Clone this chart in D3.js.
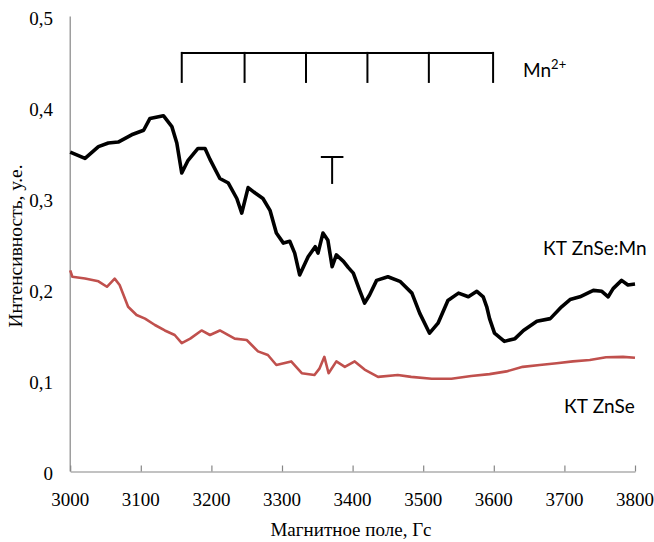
<!DOCTYPE html>
<html>
<head>
<meta charset="utf-8">
<script src="https://cdn.jsdelivr.net/npm/d3@7"></script>
<style>
  body { margin: 0; background: #fff; }
  .tick-label { font-family: 'Liberation Serif', 'Times New Roman', serif; font-size: 19px; fill: #000; }
  .axis-title { font-family: 'Liberation Serif', 'Times New Roman', serif; font-size: 19px; fill: #000; }
  .note { font-family: Lato, 'Open Sans', sans-serif; font-size: 19px; fill: #000; }
</style>
</head>
<body>
<div class="graph-container"></div>
<script>
// magnetic field, Gs / intensity for the doped sample
var blackField = [3000, 3021, 3040, 3054, 3068, 3087, 3104, 3113, 3132, 3144, 3151, 3158, 3167, 3181, 3191, 3198,
  3212, 3224, 3236, 3243, 3252, 3262, 3273, 3283, 3292, 3302, 3311, 3318, 3325, 3337, 3347, 3351, 3358, 3365,
  3371, 3377, 3387, 3394, 3401, 3410, 3417, 3424, 3434, 3450, 3467, 3484, 3495, 3509, 3521, 3535, 3550, 3564,
  3576, 3585, 3590, 3594, 3601, 3615, 3630, 3642, 3661, 3680, 3696, 3708, 3722, 3741, 3753, 3762, 3769, 3781,
  3790, 3800];
var blackValues = [0.351, 0.344, 0.357, 0.361, 0.362, 0.370, 0.375, 0.388, 0.391, 0.379, 0.361, 0.328, 0.342, 0.355, 0.355, 0.343,
  0.322, 0.317, 0.300, 0.284, 0.312, 0.306, 0.300, 0.287, 0.262, 0.251, 0.253, 0.240, 0.216, 0.236, 0.247, 0.240, 0.262, 0.254,
  0.225, 0.238, 0.231, 0.224, 0.218, 0.199, 0.185, 0.194, 0.210, 0.214, 0.209, 0.196, 0.174, 0.152, 0.163, 0.188, 0.196, 0.192,
  0.198, 0.192, 0.181, 0.168, 0.152, 0.143, 0.146, 0.155, 0.165, 0.168, 0.181, 0.189, 0.192, 0.199, 0.198, 0.192, 0.201, 0.210,
  0.205, 0.206];

// undoped sample
var redField = [3000, 3003, 3021, 3040, 3052, 3063, 3070, 3082, 3094, 3106, 3120, 3134, 3148, 3158, 3170, 3186, 3198,
  3212, 3233, 3250, 3266, 3280, 3292, 3313, 3328, 3346, 3353, 3360, 3366, 3377, 3389, 3403, 3417, 3436, 3464,
  3483, 3512, 3540, 3568, 3594, 3618, 3641, 3665, 3689, 3712, 3736, 3759, 3783, 3800];
var redValues = [0.221, 0.214, 0.212, 0.209, 0.203, 0.212, 0.205, 0.181, 0.172, 0.168, 0.161, 0.155, 0.150, 0.141, 0.146, 0.155, 0.150,
  0.155, 0.146, 0.1445, 0.132, 0.128, 0.117, 0.121, 0.108, 0.106, 0.113, 0.126, 0.108, 0.121, 0.115, 0.121, 0.112, 0.104, 0.106,
  0.104, 0.102, 0.102, 0.105, 0.107, 0.110, 0.115, 0.117, 0.119, 0.121, 0.1225, 0.1255, 0.126, 0.125];

var xTicks = [3000, 3100, 3200, 3300, 3400, 3500, 3600, 3700, 3800];
var yTicks = [0, 0.1, 0.2, 0.3, 0.4, 0.5];

// Mn2+ sextet positions and the marker T
var mnLines = [3158, 3247, 3334, 3421, 3508, 3599];
var mnTop = 0.460, mnBottom = 0.427;
var tMark = { field: 3371, left: 3355, right: 3387, top: 0.3456, bottom: 0.316 };

var svgWidth = 654;
var svgHeight = 542;
var padLeft = 70.2, padRight = 19, padTop = 16.5, padBottom = 70.5;

var svg = d3.select('.graph-container').append('svg')
  .attr('width', svgWidth)
  .attr('height', svgHeight);

var xScale = d3.scaleLinear()
  .domain([3000, 3800])
  .range([padLeft, svgWidth - padRight]);

var yScale = d3.scaleLinear()
  .domain([0, 0.5])
  .range([svgHeight - padBottom, padTop]);

// axes, excel-like grey lines
var xAxis = d3.axisBottom(xScale).tickValues(xTicks).tickSizeInner(-6).tickSizeOuter(0).tickFormat('');
var gx = svg.append('g')
  .attr('transform', 'translate(0,' + yScale(0) + ')')
  .call(xAxis);
gx.selectAll('path, line').attr('stroke', '#868686').attr('stroke-width', 1.2);

svg.append('line')
  .attr('x1', xScale(3000)).attr('x2', xScale(3000))
  .attr('y1', yScale(0.5)).attr('y2', yScale(0))
  .attr('stroke', '#868686').attr('stroke-width', 1.2);

// tick labels
svg.selectAll('.xlab')
  .data(xTicks)
  .enter()
  .append('text')
  .attr('class', 'tick-label')
  .attr('x', function(d) { return xScale(d); })
  .attr('y', yScale(0) + 34.5)
  .style('text-anchor', 'middle')
  .text(function(d) { return d; });

svg.selectAll('.ylab')
  .data(yTicks)
  .enter()
  .append('text')
  .attr('class', 'tick-label')
  .attr('x', 53)
  .attr('y', function(d) { return yScale(d) + 8.5; })
  .style('text-anchor', 'end')
  .text(function(d) { return d === 0 ? '0' : d.toFixed(1).replace('.', ','); });

// axis titles
svg.append('text')
  .attr('class', 'axis-title')
  .attr('x', 351)
  .attr('y', 536)
  .style('text-anchor', 'middle')
  .text('Магнитное поле, Гс');

svg.append('text')
  .attr('class', 'axis-title')
  .attr('transform', 'translate(22,246) rotate(-90)')
  .style('text-anchor', 'middle')
  .style('font-size', '19.5px')
  .text('Интенсивность, у.е.');

// curves
var line = d3.line()
  .x(function(d) { return xScale(d[0]); })
  .y(function(d) { return yScale(d[1]); });

svg.append('path')
  .datum(d3.zip(redField, redValues))
  .attr('d', line)
  .attr('fill', 'none')
  .attr('stroke', '#C0504D')
  .attr('stroke-width', 2.6)
  .attr('stroke-linejoin', 'round');

svg.append('path')
  .datum(d3.zip(blackField, blackValues))
  .attr('d', line)
  .attr('fill', 'none')
  .attr('stroke', '#000')
  .attr('stroke-width', 3.6)
  .attr('stroke-linejoin', 'round');

// Mn2+ bracket
svg.append('line')
  .attr('x1', xScale(mnLines[0])).attr('x2', xScale(mnLines[mnLines.length - 1]))
  .attr('y1', yScale(mnTop)).attr('y2', yScale(mnTop))
  .attr('stroke', '#000').attr('stroke-width', 2);

svg.selectAll('.mn')
  .data(mnLines)
  .enter()
  .append('line')
  .attr('x1', function(d) { return xScale(d); })
  .attr('x2', function(d) { return xScale(d); })
  .attr('y1', yScale(mnTop) - 1)
  .attr('y2', yScale(mnBottom))
  .attr('stroke', '#000').attr('stroke-width', 2);

// T marker
svg.append('line')
  .attr('x1', xScale(tMark.left)).attr('x2', xScale(tMark.right))
  .attr('y1', yScale(tMark.top)).attr('y2', yScale(tMark.top))
  .attr('stroke', '#000').attr('stroke-width', 2);
svg.append('line')
  .attr('x1', xScale(tMark.field)).attr('x2', xScale(tMark.field))
  .attr('y1', yScale(tMark.top)).attr('y2', yScale(tMark.bottom))
  .attr('stroke', '#000').attr('stroke-width', 2);

// labels
var mn = svg.append('text')
  .attr('class', 'note')
  .attr('x', 523)
  .attr('y', 77);
mn.append('tspan').text('Mn');
mn.append('tspan').attr('dy', -8).style('font-size', '13px').text('2+');

svg.append('text')
  .attr('class', 'note')
  .attr('x', 543)
  .attr('y', 255)
  .text('КТ ZnSe:Mn');

svg.append('text')
  .attr('class', 'note')
  .attr('x', 564)
  .attr('y', 413)
  .text('КТ ZnSe');
</script>
</body>
</html>
